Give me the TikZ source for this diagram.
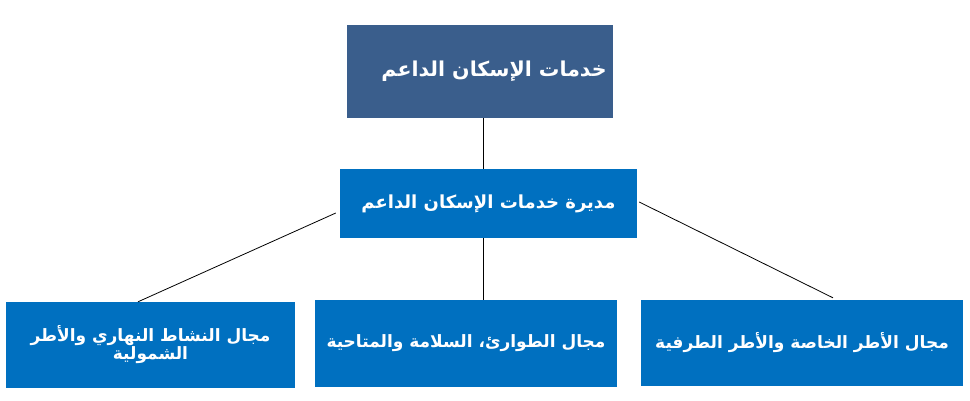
\documentclass[tikz,border=0pt]{standalone}
\usepackage{fontspec}
\usepackage{tikz}
\usetikzlibrary{calc,positioning}
\newfontfamily\arabicfont[Script=Arabic]{DejaVu Sans}
\TeXXeTstate=1
\definecolor{chead}{RGB}{58,94,140}
\definecolor{cunit}{RGB}{0,112,192}
\tikzset{
  headbox/.style={rectangle,fill=chead,draw=none,text=white,
    minimum width=266pt,minimum height=93pt,align=center,inner sep=4pt,
    font=\arabicfont\bfseries\fontsize{20.5}{24}\selectfont},
  unitbox/.style={rectangle,fill=cunit,draw=none,text=white,
    align=center,inner sep=4pt,
    font=\arabicfont\bfseries\fontsize{17}{20}\selectfont},
  link/.style={draw=black,line width=0.8pt}
}

\begin{document}
\begin{tikzpicture}[x=1pt,y=-1pt]
\useasboundingbox (0,0) rectangle (970,400);
% ---------------- top: the service ----------------
\node[headbox] (svc) at (480,71.5)
  {\hspace*{28pt}\beginR خدمات الإسكان الداعم\endR};
% ---------------- directorate ----------------
\node[unitbox,minimum width=297pt,minimum height=69pt,
  font=\arabicfont\bfseries\fontsize{18}{21}\selectfont] (dir) at (488.5,203.5)
  {\beginR مديرة خدمات الإسكان الداعم\endR};
% ---------------- the three domains ----------------
\node[unitbox,minimum width=289pt,minimum height=86pt] (dday) at (150.5,345)
  {\beginR مجال النشاط النهاري والأطر\endR\\[-2pt]\beginR الشمولية\endR};
\node[unitbox,minimum width=302pt,minimum height=87pt] (dsafe) at (466,343.5)
  {\beginR مجال الطوارئ، السلامة والمتاحية\endR};
\node[unitbox,minimum width=322pt,minimum height=86pt] (dframe) at (802,343)
  {\beginR مجال الأطر الخاصة والأطر الطرفية\endR};
% connectors
\draw[link] ([xshift=3pt]svc.south) -- ([xshift=-5.5pt]dir.north);
\draw[link] ([shift={(-4,9.5)}]dir.west) -- ([xshift=-12.5pt]dday.north);
\draw[link] ([xshift=-5.5pt]dir.south) -- ([xshift=17pt]dsafe.north);
\draw[link] ([shift={(2,-1.5)}]dir.east) -- ([shift={(31,-2)}]dframe.north);
\end{tikzpicture}
\end{document}
